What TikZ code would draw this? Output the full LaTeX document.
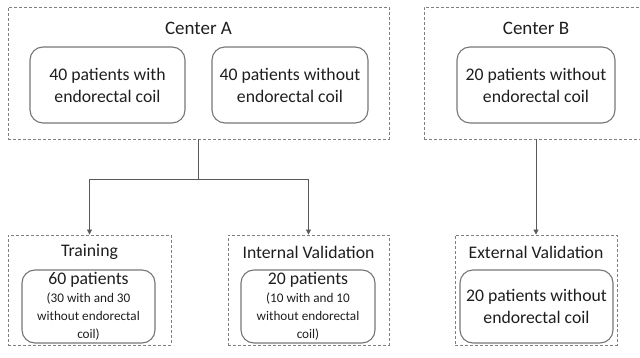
\documentclass[tikz,border=0pt]{standalone}
\usepackage{fontspec}
\setmainfont{Carlito}
\usetikzlibrary{arrows.meta}
\definecolor{dashgray}{HTML}{808080}
\definecolor{boxgray}{HTML}{767676}
\definecolor{linkgray}{HTML}{595959}
\definecolor{inkgray}{HTML}{1E1E1E}

\begin{document}
\begin{tikzpicture}[x=1pt, y=-1pt,
    group/.style 2 args={shape=rectangle, draw=dashgray, dash pattern=on 3pt off 2pt, line width=0.9pt, minimum width=#1, minimum height=#2, inner sep=0pt},
    patbox/.style 2 args={shape=rectangle, rounded corners=13pt, draw=boxgray, line width=1.1pt, minimum width=#1, minimum height=#2, inner sep=0pt, align=center, text=inkgray, font=\fontsize{17.7}{22}\selectfont},
    smallbox/.style 2 args={patbox={#1}{#2}, font=\fontsize{13.2}{18}\selectfont},
    title/.style={text=inkgray, font=\fontsize{19}{22}\selectfont, inner sep=0pt},
    subtitle/.style={text=inkgray, font=\fontsize{17.7}{22}\selectfont, inner sep=0pt},
    link/.style={draw=linkgray, line width=0.9pt}]
    \useasboundingbox (0,0) rectangle (640,358);
    \clip (0,0) rectangle (640,358);
    % sources
    \node[group={381}{132}] (centerA) at (198.5,73) {};
    \node[title] (titleA) at (198.5,28) {Center A};
    \node[patbox={155}{76}] (withA) at (107.5,85) {40 patients with\\endorectal coil};
    \node[patbox={156}{76}] (withoutA) at (290,85) {40 patients without\\endorectal coil};
    \node[group={224}{132}] (centerB) at (536,73) {};
    \node[title] (titleB) at (536,28) {Center B};
    \node[patbox={158}{76}] (withoutB) at (536,85) {20 patients without\\endorectal coil};
    % cohorts
    \node[group={163}{110}] (train) at (89.5,290) {};
    \node[subtitle] (trainT) at (89.5,252) {Training};
    \node[smallbox={133}{73}] (trainP) at (88.5,306.5) {\fontsize{17.7}{18}\selectfont 60 patients\\(30 with and 30\\without endorectal\\coil)};
    \node[group={161}{110}] (intval) at (308.5,290) {};
    \node[subtitle] (intvalT) at (308.5,252) {Internal Validation};
    \node[smallbox={134}{73}] (intvalP) at (308,306.5) {\fontsize{17.7}{18}\selectfont 20 patients\\(10 with and 10\\without endorectal\\coil)};
    \node[group={162}{110}] (extval) at (536,290) {};
    \node[subtitle] (extvalT) at (536,252) {External Validation};
    \node[patbox={153}{73}] (extvalP) at (536.5,306.5) {20 patients without\\endorectal coil};
    % connectors
    \coordinate (split) at (198.5,179);
    \draw[link] (centerA.south) -- (split);
    \draw[link, -{Triangle[length=5pt,width=5pt]}] (split) -| (train.north);
    \draw[link, -{Triangle[length=5pt,width=5pt]}] (split) -| (intval.north);
    \draw[link, -{Triangle[length=5pt,width=5pt]}] (centerB.south) -- (extval.north);
\end{tikzpicture}
\end{document}
